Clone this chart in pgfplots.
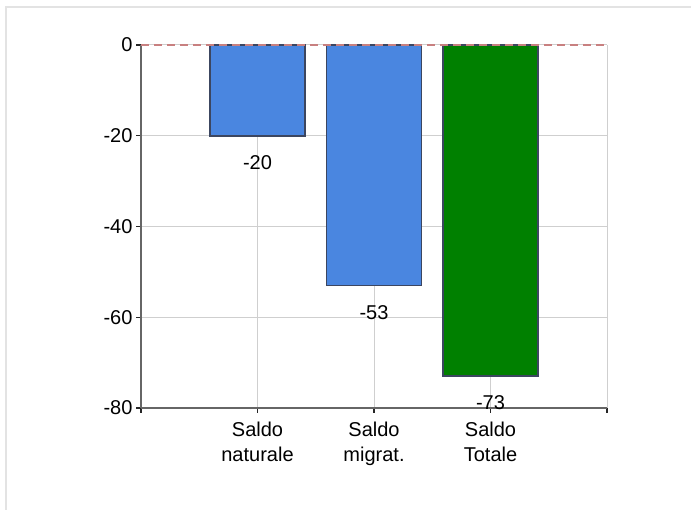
\documentclass[border=0pt]{standalone}
\usepackage{fontspec}
\setmainfont{Liberation Sans}
\usepackage{pgfplots}
\pgfplotsset{compat=1.18}
\definecolor{barblue}{HTML}{4A86E0}
\definecolor{bargreen}{HTML}{008000}
\definecolor{baredge}{HTML}{3C4660}
\definecolor{gridgray}{HTML}{CFCFCF}
\definecolor{axisgray}{HTML}{666666}
\definecolor{framegray}{HTML}{E3E3E3}
\definecolor{zerored}{HTML}{C88080}

\begin{document}
\begin{tikzpicture}[x=1bp,y=1bp]
\useasboundingbox (0,0) rectangle (691,510);
\draw[framegray, line width=2.5bp] (6,0) -- (6,503) -- (691,503);
\begin{axis}[
  at={(141bp,102bp)}, anchor=south west,
  scale only axis, width=466bp, height=363bp,
  xmin=0, xmax=4, ymin=-80, ymax=0,
  clip=false,
  axis x line*=bottom, axis y line*=left,
  axis line style={axisgray, line width=1.3bp, -},
  xtick={0,1,2,3,4},
  xticklabels={,Saldo\\naturale,Saldo\\migrat.,Saldo\\Totale,},
  ytick={-80,-60,-40,-20,0},
  /pgf/number format/assume math mode=true,
  tick label style={font=\fontsize{20bp}{25bp}\selectfont, text=black},
  xticklabel style={align=center, yshift=-5bp},
  tick align=outside, major tick length=5bp,
  tick style={black!85, line width=1.1bp},
  grid=major, major grid style={gridgray, line width=1bp},
  bar width=95bp, bar shift=0pt,
]
\addplot[ybar, fill=barblue, draw=baredge, line width=1.6bp,
  nodes near coords,
  every node near coord/.append style={anchor=north, yshift=-19bp, inner sep=0pt,
    font=\fontsize{20bp}{25bp}\selectfont, text=black}]
  coordinates {(1,-20) (2,-53)};
\addplot[ybar, fill=bargreen, draw=baredge, line width=1.6bp,
  nodes near coords,
  every node near coord/.append style={anchor=north, yshift=-19bp, inner sep=0pt,
    font=\fontsize{20bp}{25bp}\selectfont, text=black}]
  coordinates {(3,-73)};
\addplot[sharp plot, zerored, line width=1.2bp, dash pattern=on 8bp off 5bp, forget plot]
  coordinates {(0,0) (4,0)};
\end{axis}
\end{tikzpicture}
\end{document}
